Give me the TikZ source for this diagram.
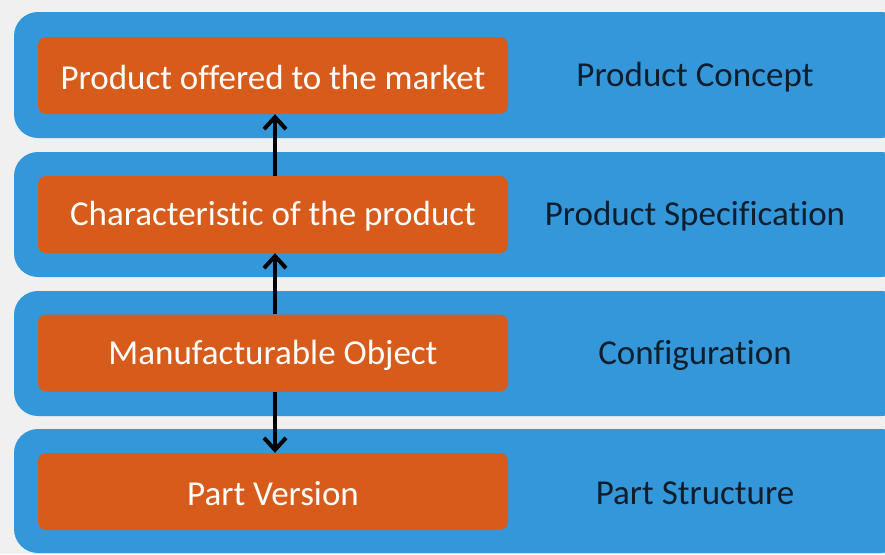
\documentclass[tikz,border=0pt]{standalone}
\usepackage{fontspec}
\setmainfont[Ligatures=NoCommon]{Carlito}
\usetikzlibrary{arrows.meta}
\definecolor{bgc}{HTML}{F0F0F0}
\definecolor{bandc}{HTML}{3497DA}
\definecolor{boxc}{HTML}{D75B1B}
\definecolor{labc}{HTML}{0F1E2C}
\begin{document}
\begin{tikzpicture}[x=1pt,y=-1pt,
  band/.style={fill=bandc, draw=none, rounded corners=24pt},
  obox/.style={fill=boxc, draw=none, rounded corners=8pt, minimum width=470pt, minimum height=77pt, inner sep=0pt},
  otext/.style={text=white, font=\fontsize{35pt}{40pt}\selectfont, inner sep=0pt, yshift=-2pt},
  lab/.style={text=labc, font=\fontsize{35pt}{40pt}\selectfont, inner sep=0pt, yshift=-2pt},
  conn/.style={line width=4pt, -{Straight Barb[length=12pt,width=22pt,line width=4pt]}}]
\fill[bgc] (0,0) rectangle (885,554);
\useasboundingbox (0,0) rectangle (885,554);
\fill[band] (14,12) rectangle (905,138);
\fill[band] (14,152) rectangle (905,277);
\fill[band] (14,291) rectangle (905,416);
\fill[band] (14,429) rectangle (905,553);
\node[obox] (b1) at (273,75.5) {};
\node[obox] (b2) at (273,214.5) {};
\node[obox] (b3) at (273,353) {};
\node[obox] (b4) at (273,491.5) {};
\node[otext] (t1) at (b1) {Product offered to the market};
\node[otext] (t2) at (b2) {Characteristic of the product};
\node[otext] (t3) at (b3) {Manufacturable Object};
\node[otext] (t4) at (b4) {Part Version};
\node[lab] (l1) at (695,75.5) {Product Concept};
\node[lab] (l2) at (695,214.5) {Product Specification};
\node[lab] (l3) at (695,353) {Configuration};
\node[lab] (l4) at (695,491.5) {Part Structure};
\draw[conn] (b2.north -| 275,0) -- (b1.south -| 275,0);
\draw[conn] (b3.north -| 275,0) -- (b2.south -| 275,0);
\draw[conn] (b3.south -| 275,0) -- (b4.north -| 275,0);
\end{tikzpicture}
\end{document}
